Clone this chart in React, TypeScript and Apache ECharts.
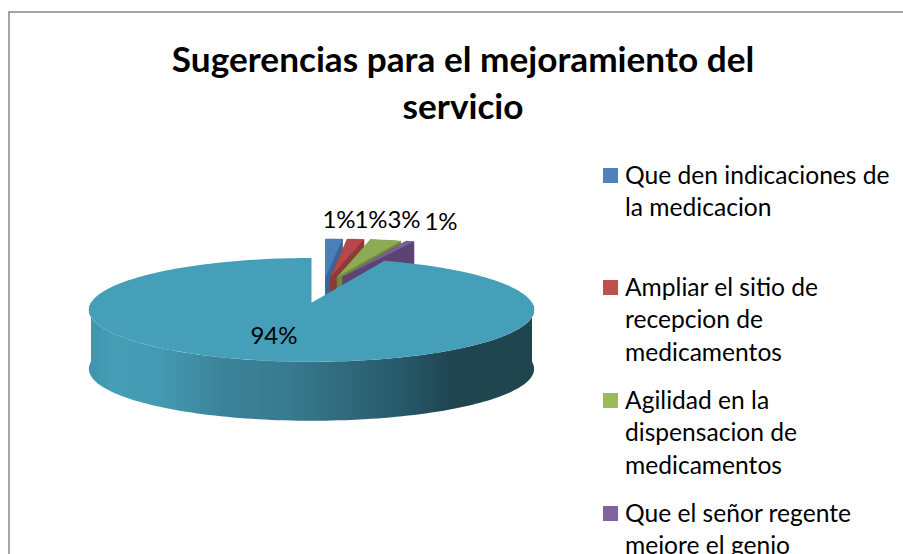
import React, { useEffect, useRef } from "react";
import * as echarts from "echarts";

const TITLE = "Sugerencias para el mejoramiento del\nservicio";
const categories = [
  "Que den indicaciones de\nla medicacion",
  "Ampliar el sitio de\nrecepcion de\nmedicamentos",
  "Agilidad en la\ndispensacion de\nmedicamentos",
  "Que el señor regente\nmejore el genio",
];
const values = [1.4, 1.4, 2.6, 0.7, 93.9];
const topColors = ["#4a7fb8", "#b8474a", "#8dab55", "#7a5f9c", "#469fb8"];
const sideColors = ["#3a6594", "#8e3a38", "#6f8a3e", "#5c4472", "#2f6f80"];
const legendColors = ["#4F81BD", "#C0504D", "#9BBB59", "#8064A2"];

// layout constants
const MAIN = { cx: 311.5, cy: 302.7, rx: 220.5, ry: 50.9, k: 0.138, depth: 59 };
const SMALL = { cx: 323.3, cy: 277, explode: 55, rx: 190, ry: 38, depth: 57 };
const LABEL_ANCHORS: [number, number][] = [
  [339, 218],
  [371, 218],
  [404, 218],
  [441, 220],
  [274, 334],
];
const LEGEND_X = 603;
const LEGEND_TEXT_X = 625;
const LEGEND_TOPS = [168, 280, 393, 506];
const LINE_H = 32.3;

const total = values.reduce((a, b) => a + b, 0);
const rad = (v: number) => (v / total) * Math.PI * 2;

function mainPoint(t: number): [number, number] {
  const u = Math.sin(t);
  const v = -Math.cos(t);
  const w = 1 - MAIN.k * v;
  return [MAIN.cx + (MAIN.rx * u) / w, MAIN.cy + (MAIN.ry * v) / w];
}

function App() {
  const ref = useRef<HTMLDivElement>(null);
  useEffect(() => {
    const chart = echarts.init(ref.current!, undefined, { renderer: "svg" });
    const starts: number[] = [];
    values.reduce((acc, v, i) => {
      starts[i] = acc;
      return acc + rad(v);
    }, 0);

    const renderItem = (_p: any, api: any) => {
      const i = _p.dataIndex as number;
      const a0 = starts[i];
      const a1 = a0 + rad(api.value(0));
      const steps = Math.max(4, Math.ceil((a1 - a0) / 0.03));
      const isMain = i === values.length - 1;
      const children: any[] = [];
      let top: [number, number][] = [];
      let depth = SMALL.depth;
      if (isMain) {
        depth = MAIN.depth;
        top.push([MAIN.cx, MAIN.cy]);
        for (let s = 0; s <= steps; s++) top.push(mainPoint(a0 + ((a1 - a0) * s) / steps));
        const f0 = Math.max(a0, Math.PI / 2);
        const f1 = Math.min(a1, (Math.PI * 3) / 2);
        const arc: [number, number][] = [];
        for (let s = 0; s <= 120; s++) arc.push(mainPoint(f0 + ((f1 - f0) * s) / 120));
        const wall = [...arc, ...arc.map(([x, y]) => [x, y + depth]).reverse()];
        children.push({
          type: "polygon",
          shape: { points: wall },
          style: {
            fill: new echarts.graphic.LinearGradient(0, 0, 1, 0, [
              { offset: 0, color: "#3f93aa" },
              { offset: 0.05, color: "#459db6" },
              { offset: 0.16, color: "#439ab2" },
              { offset: 0.3, color: "#3b8399" },
              { offset: 0.45, color: "#387a8e" },
              { offset: 0.7, color: "#27596a" },
              { offset: 0.82, color: "#1f454f" },
              { offset: 1, color: "#1f454f" },
            ]),
          },
        });
      } else {
        const mid = (a0 + a1) / 2;
        const ax = SMALL.cx + SMALL.explode * Math.sin(mid);
        const ay = SMALL.cy;
        top.push([ax, ay]);
        for (let s = 0; s <= steps; s++) {
          const t = a0 + ((a1 - a0) * s) / steps;
          top.push([ax + SMALL.rx * Math.sin(t), ay - SMALL.ry * Math.cos(t)]);
        }
        const n = top.length;
        for (let j = 0; j < n; j++) {
          const p = top[j];
          const q = top[(j + 1) % n];
          children.push({
            type: "polygon",
            shape: { points: [p, q, [q[0], q[1] + depth], [p[0], p[1] + depth]] },
            style: { fill: sideColors[i], stroke: sideColors[i], lineWidth: 0.5 },
          });
        }
      }
      children.push({
        type: "polygon",
        shape: { points: top },
        style: { fill: topColors[i] },
      });
      const pct = Math.round((api.value(0) / total) * 100);
      children.push({
        type: "text",
        z2: 100,
        style: {
          x: LABEL_ANCHORS[i][0],
          y: LABEL_ANCHORS[i][1],
          text: `${pct}%`,
          fill: "#000",
          font: '24px Lato, sans-serif',
          align: "center",
          verticalAlign: "middle",
        },
      });
      return { type: "group", children };
    };

    const legendGraphics: any[] = [];
    categories.forEach((name, i) => {
      legendGraphics.push({
        type: "rect",
        shape: { x: LEGEND_X, y: LEGEND_TOPS[i], width: 15, height: 15 },
        style: { fill: legendColors[i] },
      });
      name.split("\n").forEach((line, j) => {
        legendGraphics.push({
          type: "text",
          x: LEGEND_TEXT_X,
          y: LEGEND_TOPS[i] + 6.5 + j * LINE_H,
          style: {
            text: line,
            fill: "#000",
            font: '24.6px Lato, sans-serif',
            verticalAlign: "middle",
          },
        });
      });
    });

    chart.setOption({
      animation: false,
      backgroundColor: "#fff",
      title: {
        text: TITLE,
        left: 458,
        top: 29,
        textAlign: "center",
        textStyle: {
          fontFamily: "Lato, sans-serif",
          fontWeight: "bold",
          fontSize: 35.2,
          lineHeight: 47,
          color: "#000",
        },
      },
      graphic: [
        {
          type: "rect",
          shape: { x: 9, y: 12, width: 1000, height: 1000 },
          style: { fill: "none", stroke: "#868686", lineWidth: 1.5 },
        },
        ...legendGraphics,
      ],
      series: [
        {
          type: "custom",
          coordinateSystem: "none",
          silent: true,
          clip: false,
          renderItem,
          data: values.map((v) => [v]),
        },
      ],
    });
    return () => chart.dispose();
  }, []);
  return (
    <div
      ref={ref}
      style={{ position: "fixed", left: 0, top: 0, width: 903, height: 554 }}
    />
  );
}

export default App;
